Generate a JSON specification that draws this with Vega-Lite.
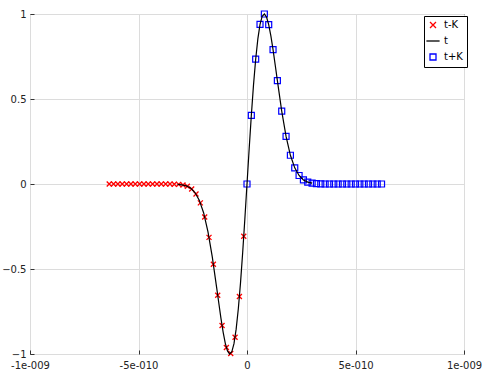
{
  "$schema": "https://vega.github.io/schema/vega-lite/v6.json",
  "width": 434,
  "height": 340,
  "autosize": {"type": "none"},
  "padding": {"left": 30, "top": 14, "right": 28, "bottom": 28},
  "background": "white",
  "config": {
    "font": "DejaVu Sans",
    "view": {"stroke": "#000000", "strokeWidth": 1},
    "axis": {
      "domain": false,
      "grid": true,
      "gridColor": "#dcdcdc",
      "gridWidth": 1,
      "ticks": true,
      "tickSize": -4,
      "tickColor": "#333333",
      "labelFont": "DejaVu Sans",
      "labelFontSize": 10,
      "labelColor": "#222222",
      "title": null,
      "labelFlush": false,
      "labelOverlap": false
    }
  },
  "data": {
    "values": [
      {"s": "t-K", "x": -0.15e-10, "y": -0.307},
      {"s": "t-K", "x": -0.35e-10, "y": -0.662},
      {"s": "t-K", "x": -0.55e-10, "y": -0.901},
      {"s": "t-K", "x": -0.75e-10, "y": -0.997},
      {"s": "t-K", "x": -0.95e-10, "y": -0.962},
      {"s": "t-K", "x": -1.15e-10, "y": -0.832},
      {"s": "t-K", "x": -1.35e-10, "y": -0.654},
      {"s": "t-K", "x": -1.55e-10, "y": -0.472},
      {"s": "t-K", "x": -1.75e-10, "y": -0.314},
      {"s": "t-K", "x": -1.95e-10, "y": -0.194},
      {"s": "t-K", "x": -2.15e-10, "y": -0.111},
      {"s": "t-K", "x": -2.35e-10, "y": -0.059},
      {"s": "t-K", "x": -2.55e-10, "y": -0.029},
      {"s": "t-K", "x": -2.75e-10, "y": -0.013},
      {"s": "t-K", "x": -2.95e-10, "y": -0.006},
      {"s": "t-K", "x": -3.15e-10, "y": -0.002},
      {"s": "t-K", "x": -3.35e-10, "y": -0.001},
      {"s": "t-K", "x": -3.55e-10, "y": 0},
      {"s": "t-K", "x": -3.75e-10, "y": 0},
      {"s": "t-K", "x": -3.95e-10, "y": 0},
      {"s": "t-K", "x": -4.15e-10, "y": 0},
      {"s": "t-K", "x": -4.35e-10, "y": 0},
      {"s": "t-K", "x": -4.55e-10, "y": 0},
      {"s": "t-K", "x": -4.75e-10, "y": 0},
      {"s": "t-K", "x": -4.95e-10, "y": 0},
      {"s": "t-K", "x": -5.15e-10, "y": 0},
      {"s": "t-K", "x": -5.35e-10, "y": 0},
      {"s": "t-K", "x": -5.55e-10, "y": 0},
      {"s": "t-K", "x": -5.75e-10, "y": 0},
      {"s": "t-K", "x": -5.95e-10, "y": 0},
      {"s": "t-K", "x": -6.15e-10, "y": 0},
      {"s": "t-K", "x": -6.35e-10, "y": 0},

      {"s": "t+K", "x": 0, "y": 0},
      {"s": "t+K", "x": 0.2e-10, "y": 0.404},
      {"s": "t+K", "x": 0.4e-10, "y": 0.734},
      {"s": "t+K", "x": 0.6e-10, "y": 0.939},
      {"s": "t+K", "x": 0.8e-10, "y": 1.0},
      {"s": "t+K", "x": 1.0e-10, "y": 0.937},
      {"s": "t+K", "x": 1.2e-10, "y": 0.79},
      {"s": "t+K", "x": 1.4e-10, "y": 0.608},
      {"s": "t+K", "x": 1.6e-10, "y": 0.429},
      {"s": "t+K", "x": 1.8e-10, "y": 0.28},
      {"s": "t+K", "x": 2.0e-10, "y": 0.169},
      {"s": "t+K", "x": 2.2e-10, "y": 0.095},
      {"s": "t+K", "x": 2.4e-10, "y": 0.05},
      {"s": "t+K", "x": 2.6e-10, "y": 0.024},
      {"s": "t+K", "x": 2.8e-10, "y": 0.011},
      {"s": "t+K", "x": 3.0e-10, "y": 0.005},
      {"s": "t+K", "x": 3.2e-10, "y": 0.002},
      {"s": "t+K", "x": 3.4e-10, "y": 0.001},
      {"s": "t+K", "x": 3.6e-10, "y": 0},
      {"s": "t+K", "x": 3.8e-10, "y": 0},
      {"s": "t+K", "x": 4.0e-10, "y": 0},
      {"s": "t+K", "x": 4.2e-10, "y": 0},
      {"s": "t+K", "x": 4.4e-10, "y": 0},
      {"s": "t+K", "x": 4.6e-10, "y": 0},
      {"s": "t+K", "x": 4.8e-10, "y": 0},
      {"s": "t+K", "x": 5.0e-10, "y": 0},
      {"s": "t+K", "x": 5.2e-10, "y": 0},
      {"s": "t+K", "x": 5.4e-10, "y": 0},
      {"s": "t+K", "x": 5.6e-10, "y": 0},
      {"s": "t+K", "x": 5.8e-10, "y": 0},
      {"s": "t+K", "x": 6.0e-10, "y": 0},
      {"s": "t+K", "x": 6.2e-10, "y": 0},

      {"s": "t", "x": -3.2e-10, "y": -0.002},
      {"s": "t", "x": -3.0e-10, "y": -0.005},
      {"s": "t", "x": -2.8e-10, "y": -0.011},
      {"s": "t", "x": -2.6e-10, "y": -0.024},
      {"s": "t", "x": -2.4e-10, "y": -0.05},
      {"s": "t", "x": -2.2e-10, "y": -0.095},
      {"s": "t", "x": -2.0e-10, "y": -0.169},
      {"s": "t", "x": -1.8e-10, "y": -0.28},
      {"s": "t", "x": -1.6e-10, "y": -0.429},
      {"s": "t", "x": -1.4e-10, "y": -0.608},
      {"s": "t", "x": -1.3e-10, "y": -0.7},
      {"s": "t", "x": -1.2e-10, "y": -0.79},
      {"s": "t", "x": -1.1e-10, "y": -0.871},
      {"s": "t", "x": -1.0e-10, "y": -0.937},
      {"s": "t", "x": -0.9e-10, "y": -0.982},
      {"s": "t", "x": -0.8e-10, "y": -1.0},
      {"s": "t", "x": -0.7e-10, "y": -0.987},
      {"s": "t", "x": -0.6e-10, "y": -0.939},
      {"s": "t", "x": -0.5e-10, "y": -0.854},
      {"s": "t", "x": -0.4e-10, "y": -0.734},
      {"s": "t", "x": -0.3e-10, "y": -0.583},
      {"s": "t", "x": -0.2e-10, "y": -0.404},
      {"s": "t", "x": -0.1e-10, "y": -0.207},
      {"s": "t", "x": 0, "y": 0},
      {"s": "t", "x": 0.1e-10, "y": 0.207},
      {"s": "t", "x": 0.2e-10, "y": 0.404},
      {"s": "t", "x": 0.3e-10, "y": 0.583},
      {"s": "t", "x": 0.4e-10, "y": 0.734},
      {"s": "t", "x": 0.5e-10, "y": 0.854},
      {"s": "t", "x": 0.6e-10, "y": 0.939},
      {"s": "t", "x": 0.7e-10, "y": 0.987},
      {"s": "t", "x": 0.8e-10, "y": 1.0},
      {"s": "t", "x": 0.9e-10, "y": 0.982},
      {"s": "t", "x": 1.0e-10, "y": 0.937},
      {"s": "t", "x": 1.1e-10, "y": 0.871},
      {"s": "t", "x": 1.2e-10, "y": 0.79},
      {"s": "t", "x": 1.3e-10, "y": 0.7},
      {"s": "t", "x": 1.4e-10, "y": 0.608},
      {"s": "t", "x": 1.6e-10, "y": 0.429},
      {"s": "t", "x": 1.8e-10, "y": 0.28},
      {"s": "t", "x": 2.0e-10, "y": 0.169},
      {"s": "t", "x": 2.2e-10, "y": 0.095},
      {"s": "t", "x": 2.4e-10, "y": 0.05},
      {"s": "t", "x": 2.6e-10, "y": 0.024},
      {"s": "t", "x": 2.8e-10, "y": 0.011},
      {"s": "t", "x": 3.0e-10, "y": 0.005}
    ]
  },
  "encoding": {
    "x": {
      "field": "x",
      "type": "quantitative",
      "scale": {"domain": [-1e-9, 1e-9], "nice": false, "zero": false},
      "axis": {
        "values": [-1e-9, -5e-10, 0, 5e-10, 1e-9],
        "labelPadding": 10,
        "labelExpr": "datum.value < -7e-10 ? '-1e-009' : datum.value < -2e-10 ? '-5e-010' : datum.value < 2e-10 ? '0' : datum.value < 7e-10 ? '5e-010' : '1e-009'"
      }
    },
    "y": {
      "field": "y",
      "type": "quantitative",
      "scale": {"domain": [-1, 1], "nice": false, "zero": false},
      "axis": {"values": [-1, -0.5, 0, 0.5, 1], "format": "~g", "labelPadding": 8}
    },
    "color": {
      "field": "s",
      "type": "nominal",
      "scale": {"domain": ["t-K", "t", "t+K"], "range": ["#ff0000", "#000000", "#0000ff"]},
      "legend": {
        "title": null,
        "orient": "none",
        "legendX": 394,
        "legendY": 2,
        "fillColor": "white",
        "strokeColor": "#000000",
        "padding": 4,
        "labelFont": "DejaVu Sans",
        "labelFontSize": 10,
        "labelColor": "#000000",
        "symbolSize": 36,
        "symbolStrokeWidth": 1.3,
        "rowPadding": 5,
        "labelOffset": 6
      }
    },
    "shape": {
      "field": "s",
      "type": "nominal",
      "scale": {"domain": ["t-K", "t", "t+K"], "range": ["M-1,-1L1,1M-1,1L1,-1", "M-2.2,0L2.2,0", "square"]},
      "legend": {
        "title": null,
        "orient": "none",
        "legendX": 394,
        "legendY": 2
      }
    }
  },
  "layer": [
    {
      "transform": [{"filter": "datum.s == 't-K'"}],
      "mark": {"type": "point", "size": 25, "strokeWidth": 1.3, "filled": false, "opacity": 1}
    },
    {
      "transform": [{"filter": "datum.s == 't+K'"}],
      "mark": {"type": "point", "size": 36, "strokeWidth": 1.2, "filled": false, "opacity": 1}
    },
    {
      "transform": [{"filter": "datum.s == 't'"}],
      "encoding": {"shape": null},
      "mark": {"type": "line", "strokeWidth": 1.2}
    }
  ]
}
